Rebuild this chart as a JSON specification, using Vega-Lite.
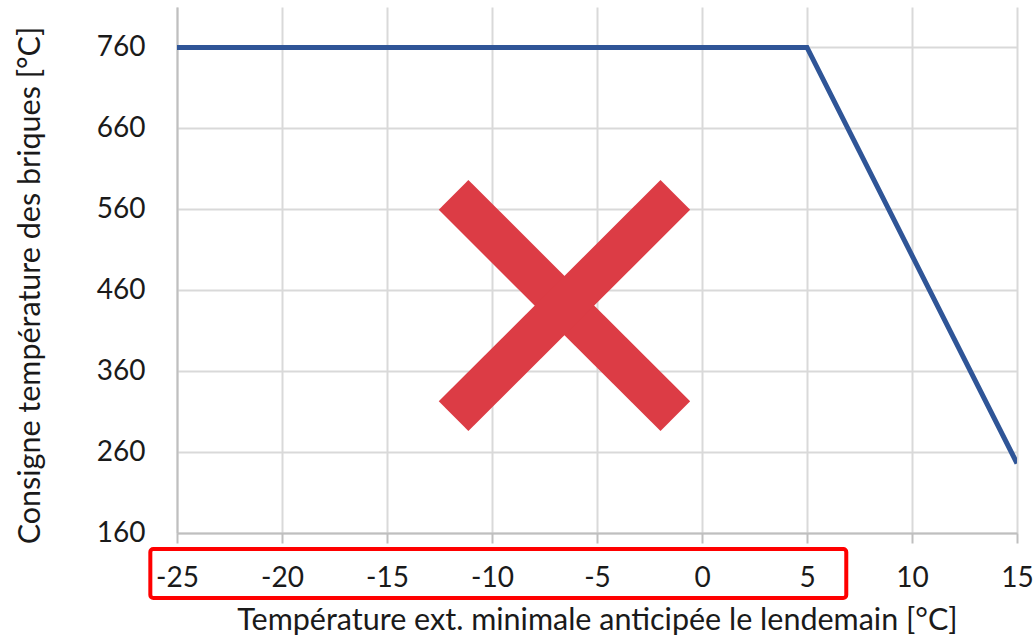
{
  "$schema": "https://vega.github.io/schema/vega-lite/v6.json",
  "width": 840,
  "height": 526,
  "autosize": {"type": "none"},
  "padding": {"left": 177, "top": 7, "right": 16, "bottom": 103},
  "background": "white",
  "config": {
    "view": {"stroke": null},
    "font": "Lato",
    "axis": {
      "labelFont": "Lato",
      "titleFont": "Lato",
      "labelFontSize": 28,
      "titleFontSize": 30.5,
      "titleFontWeight": "normal",
      "labelColor": "#1a1a1a",
      "titleColor": "#1a1a1a",
      "gridColor": "#d9d9d9",
      "gridWidth": 2,
      "domainColor": "#bfbfbf",
      "domainWidth": 2,
      "tickColor": "#bfbfbf",
      "tickWidth": 2
    }
  },
  "layer": [
    {
      "data": {"values": [
        {"t": -25, "c": 760},
        {"t": 5, "c": 760},
        {"t": 15, "c": 246}
      ]},
      "mark": {"type": "line", "color": "#2F5597", "strokeWidth": 5, "clip": true},
      "encoding": {
        "x": {
          "field": "t", "type": "quantitative",
          "scale": {"domain": [-25, 15], "nice": false, "zero": false},
          "axis": {
            "values": [-25, -20, -15, -10, -5, 0, 5, 10, 15],
            "labelExpr": "replace(datum.label, '\u2212', '-')",
            "title": "Température ext. minimale anticipée le lendemain [°C]",
            "tickSize": 10,
            "labelPadding": 21,
            "titlePadding": 13,
            "labelFlush": false,
            "labelOverlap": false
          }
        },
        "y": {
          "field": "c", "type": "quantitative",
          "scale": {"domain": [160, 810], "nice": false, "zero": false},
          "axis": {
            "values": [160, 260, 360, 460, 560, 660, 760],
            "title": "Consigne température des briques [°C]",
            "ticks": false,
            "labelPadding": 32,
            "titlePadding": 51,
            "titleY": 278,
            "labelFlush": false,
            "labelOverlap": false
          }
        }
      }
    },
    {
      "data": {"values": [
        {"x1": -11.83, "y1": 577.7, "x2": -1.27, "y2": 304.4},
        {"x1": -1.27, "y1": 577.7, "x2": -11.83, "y2": 304.4}
      ]},
      "mark": {"type": "rule", "color": "#DC3C45", "strokeWidth": 42, "strokeCap": "butt"},
      "encoding": {
        "x": {"field": "x1", "type": "quantitative"},
        "y": {"field": "y1", "type": "quantitative"},
        "x2": {"field": "x2"},
        "y2": {"field": "y2"}
      }
    },
    {
      "data": {"values": [
        {"x1": -26.27, "x2": 6.87, "y1": 140.25, "y2": 79.8}
      ]},
      "mark": {"type": "rect", "fill": null, "fillOpacity": 0, "stroke": "#FF0000", "strokeWidth": 4, "cornerRadius": 3, "clip": false},
      "encoding": {
        "x": {"field": "x1", "type": "quantitative"},
        "x2": {"field": "x2"},
        "y": {"field": "y1", "type": "quantitative"},
        "y2": {"field": "y2"}
      }
    }
  ]
}
